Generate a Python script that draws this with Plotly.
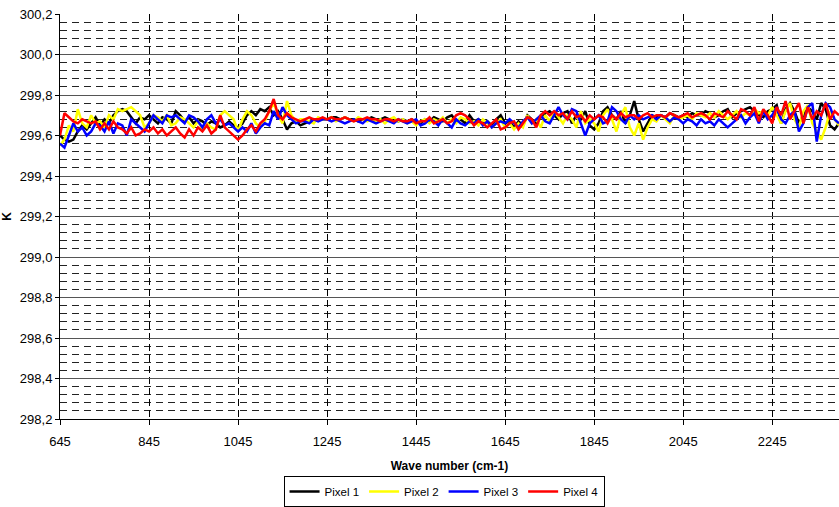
import plotly.graph_objects as go

x_start = 645
x_step = 10

pixel1 = [
    299.60, 299.58, 299.57, 299.58, 299.62, 299.65, 299.63, 299.66, 299.69, 299.65,
    299.68, 299.66, 299.70, 299.72, 299.73, 299.72, 299.69, 299.66, 299.69, 299.68,
    299.70, 299.68, 299.66, 299.69, 299.68, 299.66, 299.72, 299.70, 299.67, 299.69,
    299.66, 299.68, 299.67, 299.65, 299.67, 299.66, 299.64, 299.65, 299.67, 299.65,
    299.64, 299.66, 299.70, 299.72, 299.70, 299.73, 299.72, 299.74, 299.70, 299.72,
    299.68, 299.63, 299.66, 299.67, 299.65, 299.66, 299.67, 299.68, 299.68, 299.68,
    299.68, 299.69, 299.69, 299.68, 299.69, 299.68, 299.68, 299.67, 299.68, 299.68,
    299.69, 299.68, 299.68, 299.69, 299.68, 299.68, 299.67, 299.68, 299.67, 299.68,
    299.67, 299.66, 299.68, 299.67, 299.69, 299.68, 299.67, 299.69, 299.70, 299.67,
    299.68, 299.66, 299.70, 299.67, 299.68, 299.66, 299.67, 299.65, 299.68, 299.70,
    299.66, 299.67, 299.64, 299.67, 299.65, 299.70, 299.68, 299.66, 299.69, 299.71,
    299.72, 299.70, 299.68, 299.71, 299.72, 299.66, 299.70, 299.68, 299.72, 299.65,
    299.63, 299.66, 299.72, 299.74, 299.70, 299.68, 299.72, 299.66, 299.70, 299.77,
    299.68, 299.62, 299.66, 299.70, 299.69, 299.70, 299.69, 299.71, 299.70, 299.69,
    299.70, 299.69, 299.71, 299.70, 299.70, 299.72, 299.71, 299.69, 299.70, 299.72,
    299.73, 299.69, 299.71, 299.72, 299.73, 299.74, 299.72, 299.70, 299.69, 299.72,
    299.73, 299.75, 299.66, 299.73, 299.76, 299.72, 299.66, 299.70, 299.74, 299.72,
    299.68, 299.76, 299.73, 299.65, 299.63, 299.66,
]

pixel2 = [
    299.55, 299.58, 299.65, 299.62, 299.73, 299.66, 299.64, 299.70, 299.66, 299.67,
    299.64, 299.70, 299.68, 299.73, 299.72, 299.73, 299.74, 299.72, 299.70, 299.64,
    299.66, 299.70, 299.69, 299.67, 299.70, 299.65, 299.66, 299.69, 299.68, 299.66,
    299.64, 299.67, 299.63, 299.66, 299.64, 299.63, 299.70, 299.72, 299.70, 299.68,
    299.62, 299.68, 299.72, 299.70, 299.66, 299.64, 299.67, 299.72, 299.76, 299.70,
    299.66, 299.77, 299.70, 299.67, 299.68, 299.68, 299.67, 299.66, 299.69, 299.68,
    299.68, 299.69, 299.67, 299.68, 299.69, 299.68, 299.67, 299.69, 299.68, 299.67,
    299.68, 299.67, 299.68, 299.66, 299.68, 299.69, 299.67, 299.68, 299.66, 299.67,
    299.65, 299.67, 299.68, 299.66, 299.68, 299.67, 299.69, 299.66, 299.68, 299.66,
    299.69, 299.68, 299.66, 299.67, 299.65, 299.68, 299.66, 299.64, 299.66, 299.68,
    299.64, 299.66, 299.63, 299.66, 299.64, 299.70, 299.66, 299.68, 299.64, 299.70,
    299.67, 299.72, 299.69, 299.66, 299.70, 299.68, 299.64, 299.72, 299.66, 299.68,
    299.66, 299.62, 299.70, 299.73, 299.68, 299.62, 299.70, 299.74, 299.64, 299.60,
    299.66, 299.58, 299.64, 299.68, 299.67, 299.70, 299.68, 299.66, 299.70, 299.68,
    299.69, 299.70, 299.68, 299.71, 299.70, 299.69, 299.71, 299.69, 299.72, 299.70,
    299.68, 299.70, 299.72, 299.69, 299.71, 299.70, 299.73, 299.71, 299.72, 299.70,
    299.74, 299.70, 299.66, 299.72, 299.76, 299.68, 299.64, 299.72, 299.75, 299.66,
    299.62, 299.58, 299.64, 299.72, 299.68, 299.65,
]

pixel3 = [
    299.56, 299.54, 299.60, 299.66, 299.62, 299.64, 299.60, 299.62, 299.66, 299.65,
    299.62, 299.67, 299.61, 299.66, 299.65, 299.60, 299.68, 299.66, 299.64, 299.62,
    299.66, 299.70, 299.68, 299.66, 299.70, 299.69, 299.70, 299.68, 299.66, 299.70,
    299.69, 299.67, 299.64, 299.68, 299.70, 299.66, 299.68, 299.65, 299.66, 299.64,
    299.62, 299.64, 299.62, 299.66, 299.61, 299.64, 299.66, 299.65, 299.72, 299.68,
    299.74, 299.70, 299.68, 299.66, 299.67, 299.67, 299.66, 299.68, 299.67, 299.68,
    299.68, 299.67, 299.68, 299.67, 299.66, 299.67, 299.68, 299.67, 299.66, 299.68,
    299.67, 299.66, 299.67, 299.68, 299.67, 299.66, 299.68, 299.67, 299.66, 299.67,
    299.68, 299.65, 299.66, 299.68, 299.67, 299.65, 299.68, 299.66, 299.64, 299.68,
    299.66, 299.65, 299.67, 299.66, 299.68, 299.65, 299.67, 299.64, 299.66, 299.67,
    299.66, 299.68, 299.66, 299.64, 299.67, 299.69, 299.66, 299.68, 299.70, 299.67,
    299.66, 299.70, 299.74, 299.70, 299.68, 299.73, 299.72, 299.66, 299.60, 299.66,
    299.68, 299.70, 299.66, 299.67, 299.74, 299.72, 299.68, 299.66, 299.70, 299.68,
    299.70, 299.68, 299.69, 299.70, 299.68, 299.70, 299.69, 299.67, 299.69, 299.68,
    299.66, 299.68, 299.67, 299.65, 299.68, 299.66, 299.67, 299.65, 299.68, 299.66,
    299.64, 299.66, 299.68, 299.70, 299.66, 299.69, 299.71, 299.66, 299.72, 299.68,
    299.70, 299.74, 299.68, 299.66, 299.70, 299.72, 299.62, 299.66, 299.74, 299.76,
    299.57, 299.70, 299.76, 299.74, 299.68, 299.66,
]

pixel4 = [
    299.60, 299.71, 299.69, 299.67, 299.66, 299.68, 299.67, 299.66, 299.67, 299.63,
    299.66, 299.63, 299.67, 299.64, 299.63, 299.61, 299.64, 299.60, 299.61, 299.63,
    299.62, 299.64, 299.61, 299.63, 299.60, 299.62, 299.64, 299.61, 299.59, 299.63,
    299.60, 299.64, 299.62, 299.65, 299.61, 299.63, 299.70, 299.64, 299.62, 299.60,
    299.58, 299.60, 299.63, 299.65, 299.62, 299.66, 299.68, 299.72, 299.78, 299.70,
    299.68, 299.71, 299.69, 299.68, 299.67, 299.68, 299.69, 299.68, 299.68, 299.69,
    299.68, 299.69, 299.68, 299.68, 299.69, 299.68, 299.67, 299.68, 299.68, 299.69,
    299.68, 299.68, 299.67, 299.68, 299.68, 299.67, 299.68, 299.67, 299.67, 299.68,
    299.66, 299.67, 299.67, 299.69, 299.66, 299.67, 299.68, 299.66, 299.67, 299.70,
    299.71, 299.70, 299.68, 299.65, 299.67, 299.66, 299.64, 299.66, 299.68, 299.63,
    299.64, 299.66, 299.67, 299.63, 299.66, 299.69, 299.68, 299.64, 299.70, 299.72,
    299.70, 299.72, 299.70, 299.71, 299.68, 299.72, 299.69, 299.70, 299.67, 299.70,
    299.68, 299.70, 299.69, 299.66, 299.70, 299.68, 299.71, 299.69, 299.70, 299.70,
    299.68, 299.70, 299.71, 299.69, 299.70, 299.70, 299.69, 299.71, 299.70, 299.69,
    299.70, 299.71, 299.69, 299.70, 299.71, 299.70, 299.68, 299.71, 299.70, 299.69,
    299.72, 299.70, 299.68, 299.73, 299.72, 299.70, 299.74, 299.67, 299.73, 299.70,
    299.66, 299.74, 299.70, 299.77, 299.68, 299.72, 299.76, 299.66, 299.74, 299.68,
    299.72, 299.70, 299.76, 299.68, 299.72, 299.70,
]

series_names = ["Pixel 1", "Pixel 2", "Pixel 3", "Pixel 4"]
series_values = [pixel1, pixel2, pixel3, pixel4]
series_colors = ["#000000", "#FFFF00", "#0000FF", "#FF0000"]

x_ticks = [645, 845, 1045, 1245, 1445, 1645, 1845, 2045, 2245]
y_ticks = [298.2, 298.4, 298.6, 298.8, 299.0, 299.2, 299.4, 299.6, 299.8, 300.0, 300.2]

wave = [x_start + x_step * i for i in range(len(pixel1))]

fig = go.Figure()
for name, vals, col in zip(series_names, series_values, series_colors):
    fig.add_trace(go.Scatter(x=wave, y=vals, mode="lines", name=name,
                             line=dict(color=col, width=2.5)))

font_family = "Liberation Sans, Arial, sans-serif"

fig.update_layout(
    width=839, height=507,
    margin=dict(l=60, r=0, t=14, b=83),
    paper_bgcolor="white", plot_bgcolor="white",
    separators=",.",
    font=dict(family=font_family, size=13, color="black"),
    showlegend=True,
    legend=dict(orientation="h", x=0.493, xanchor="center", y=-0.18, yanchor="middle",
                bordercolor="black", borderwidth=1, font=dict(size=11.5),
                itemwidth=30, tracegroupgap=0),
    xaxis=dict(
        range=[645, 2395], tickvals=x_ticks, ticktext=[str(v) for v in x_ticks],
        showgrid=True, gridcolor="black", gridwidth=1, griddash="7px,4px",
        showline=True, linecolor="black", linewidth=1,
        ticks="outside", ticklen=5, tickcolor="black",
        ticklabelstandoff=5,
        tickfont=dict(size=13),
        zeroline=False,
        title=dict(text="<b>Wave number (cm-1)</b>", font=dict(size=12), standoff=14),
    ),
    yaxis=dict(
        range=[298.2, 300.2], tickvals=y_ticks, tickformat=".1f",
        showgrid=True, gridcolor="#555555", gridwidth=1,
        showline=True, linecolor="black", linewidth=1,
        ticks="outside", ticklen=4, tickcolor="black",
        tickfont=dict(size=13),
        zeroline=False,
        minor=dict(dtick=0.04, tick0=298.2, showgrid=True, gridcolor="#222222",
                   gridwidth=1, griddash="7px,5px"),
        title=dict(text="<b>K</b>", font=dict(size=12), standoff=10),
    ),
)

fig.write_html("out.html")
